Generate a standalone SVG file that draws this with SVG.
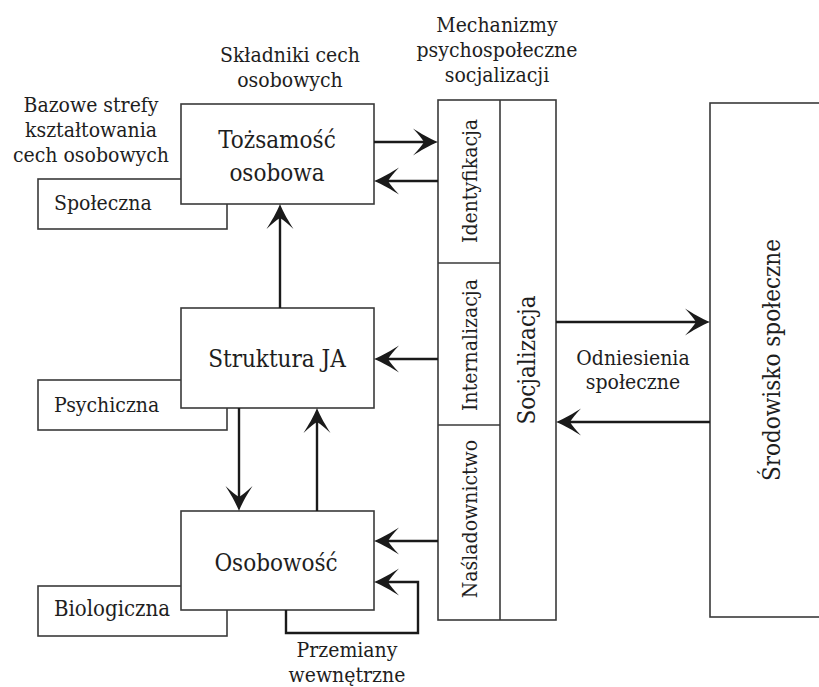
<svg xmlns="http://www.w3.org/2000/svg" width="819" height="687" viewBox="0 0 819 687">
  <style>
    text { font-family: 'DejaVu Serif', serif; font-stretch: condensed; font-size: 21px; fill: #1e1e1e; }
    .big { font-size: 24px; }
    .mid { text-anchor: middle; }
    .box { fill: #ffffff; stroke: #3a3a3a; stroke-width: 1.6; }
    .rule { stroke: #3a3a3a; stroke-width: 1.6; }
    .arrow { fill: none; stroke: #1a1a1a; stroke-width: 2.4; marker-end: url(#head); }
  </style>
  <defs>
    <marker id="head" viewBox="-27 -15 40 30" refX="-10" refY="0" markerWidth="40" markerHeight="30" markerUnits="userSpaceOnUse" orient="auto">
      <path d="M0,0 C-8,-3 -18,-9 -25,-13.5 Q-17,-5 -14,0 Q-17,5 -25,13.5 C-18,9 -8,3 0,0 Z" fill="#1a1a1a"/>
    </marker>
  </defs>
  <rect width="819" height="687" fill="#ffffff"/>

  <!-- column headings -->
  <g id="heading-skladniki">
    <text class="mid" x="290" y="62">Składniki cech</text>
    <text class="mid" x="290" y="87">osobowych</text>
  </g>
  <g id="heading-mechanizmy">
    <text class="mid" x="497" y="32">Mechanizmy</text>
    <text class="mid" x="497" y="57">psychospołeczne</text>
    <text class="mid" x="497" y="82">socjalizacji</text>
  </g>
  <g id="heading-bazowe">
    <text class="mid" x="91" y="112">Bazowe strefy</text>
    <text class="mid" x="91" y="137">kształtowania</text>
    <text class="mid" x="91" y="162">cech osobowych</text>
  </g>

  <!-- base spheres (drawn behind the main boxes) -->
  <g id="spoleczna">
    <rect class="box" x="38" y="179" width="189" height="50"/>
    <text x="54" y="210">Społeczna</text>
  </g>
  <g id="psychiczna">
    <rect class="box" x="38" y="380" width="189" height="50"/>
    <text x="54" y="412" font-size="21.5">Psychiczna</text>
  </g>
  <g id="biologiczna">
    <rect class="box" x="38" y="586" width="189" height="50"/>
    <text x="54" y="616" style="font-size:22px">Biologiczna</text>
  </g>

  <!-- personality components -->
  <g id="tozsamosc">
    <rect class="box" x="181" y="104" width="193" height="100"/>
    <text class="mid big" x="277" y="148">Tożsamość</text>
    <text class="mid big" x="277" y="181">osobowa</text>
  </g>
  <g id="struktura">
    <rect class="box" x="181" y="308" width="193" height="100"/>
    <text class="mid big" x="277" y="367">Struktura JA</text>
  </g>
  <g id="osobowosc">
    <rect class="box" x="181" y="511" width="193" height="99"/>
    <text class="mid big" x="276" y="571">Osobowość</text>
  </g>

  <!-- socialization mechanisms -->
  <g id="mechanizmy">
    <rect class="box" x="438" y="100" width="118" height="520"/>
    <line class="rule" x1="500" y1="100" x2="500" y2="620"/>
    <line class="rule" x1="438" y1="263" x2="500" y2="263"/>
    <line class="rule" x1="438" y1="425" x2="500" y2="425"/>
    <text class="mid" transform="translate(477,181) rotate(-90)">Identyfikacja</text>
    <text class="mid" transform="translate(477,345) rotate(-90)">Internalizacja</text>
    <text class="mid" transform="translate(477,519) rotate(-90)">Naśladownictwo</text>
  </g>
  <g id="socjalizacja">
    <text class="mid big" transform="translate(535,360) rotate(-90)">Socjalizacja</text>
  </g>

  <!-- social environment -->
  <g id="srodowisko">
    <rect class="box" x="710" y="103" width="130" height="514"/>
    <text class="mid big" transform="translate(780,360) rotate(-90)">Środowisko społeczne</text>
  </g>

  <g id="odniesienia">
    <text class="mid" x="633" y="365">Odniesienia</text>
    <text class="mid" x="633" y="389">społeczne</text>
  </g>
  <g id="przemiany">
    <text class="mid" x="347" y="657">Przemiany</text>
    <text class="mid" x="347" y="682">wewnętrzne</text>
  </g>

  <!-- connectors -->
  <g id="connectors">
    <line class="arrow" x1="374" y1="142" x2="428" y2="142"/>
    <line class="arrow" x1="438" y1="181" x2="384" y2="181"/>
    <line class="arrow" x1="280" y1="308" x2="280" y2="214"/>
    <line class="arrow" x1="438" y1="359" x2="384" y2="359"/>
    <line class="arrow" x1="239" y1="408" x2="239" y2="501"/>
    <line class="arrow" x1="317" y1="511" x2="317" y2="418"/>
    <line class="arrow" x1="438" y1="541" x2="384" y2="541"/>
    <path class="arrow" d="M286,610 V633 H418 V582 H384"/>
    <line class="arrow" x1="556" y1="322" x2="700" y2="322"/>
    <line class="arrow" x1="710" y1="422" x2="566" y2="422"/>
  </g>
</svg>
